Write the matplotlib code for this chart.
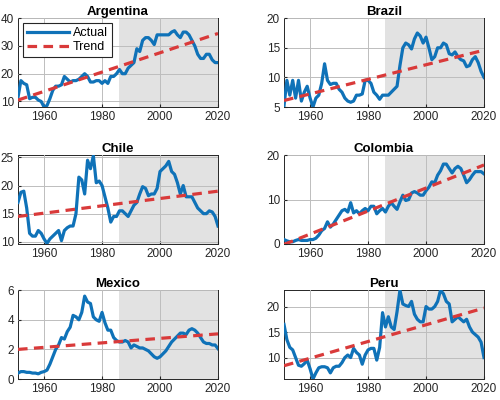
import matplotlib
matplotlib.use('Agg')
import matplotlib.pyplot as plt
import numpy as np

years = np.arange(1951, 2021)

argentina = [11.5, 17.5, 16.5, 16.0, 11.0, 11.5, 11.5, 10.5, 10.0, 8.0,
             8.5, 11.0, 14.0, 15.5, 15.5, 16.0, 19.0, 18.0, 17.0, 17.5,
             17.5, 18.0, 19.0, 20.0, 19.0, 17.0, 17.0, 17.5, 17.5, 16.5,
             17.5, 16.5, 19.0, 19.0, 20.0, 21.5, 20.0, 20.0, 22.0, 23.0,
             24.0, 29.0, 28.0, 32.0, 33.0, 33.0, 32.0, 30.5, 34.0, 34.0,
             34.0, 34.0, 34.0, 35.0, 35.5, 34.0, 33.0, 35.0, 35.0, 34.0,
             32.0, 30.0, 27.0, 25.5, 25.5, 27.0, 27.0, 25.0, 24.0, 24.0]
brazil = [5.2, 9.5, 7.0, 9.5, 6.5, 9.5, 6.0, 7.5, 8.5, 6.5,
          5.0, 6.5, 7.0, 9.0, 12.3, 9.5, 8.8, 9.0, 9.0, 8.0,
          7.5, 6.5, 6.0, 5.8, 6.0, 7.0, 7.0, 7.2, 9.5, 9.5,
          9.0, 7.5, 7.0, 6.3, 7.0, 7.0, 7.0, 7.5, 8.0, 8.5,
          12.0, 15.0, 15.8, 15.5, 14.8, 16.5, 17.5, 17.0, 15.8, 16.8,
          15.0, 13.0, 13.5, 15.0, 15.0, 15.8, 15.5, 14.0, 13.8, 14.3,
          13.5, 13.0, 12.8, 11.8, 12.0, 13.0, 13.5, 12.5, 11.0, 10.0]
chile = [17.0, 18.8, 19.0, 16.0, 11.5, 11.0, 11.0, 12.0, 11.5, 10.5,
         9.7, 10.5, 11.0, 11.5, 12.0, 10.2, 12.0, 12.5, 12.8, 12.8,
         15.0, 21.5, 21.0, 18.5, 24.5, 23.0, 25.3, 20.5, 20.8, 20.0,
         18.0, 16.0, 13.5, 14.5, 14.5, 15.5, 15.5, 15.0, 14.5, 15.5,
         16.5, 17.0, 18.5, 19.8, 19.5, 18.2, 18.5, 18.5, 19.5, 22.5,
         23.0, 23.5, 24.3, 22.5, 22.0, 20.5, 18.5, 20.0, 18.0, 18.0,
         18.0, 17.0, 16.0, 15.5, 15.0, 15.0, 15.5, 15.3, 14.5, 12.8]
colombia = [1.0, 0.7, 0.5, 0.5, 0.8, 1.0, 0.8, 0.8, 0.8, 1.0,
            1.0, 1.3, 2.0, 3.0, 3.5, 5.0, 3.8, 4.5, 5.5, 6.5,
            7.5, 7.8, 7.2, 9.3, 7.0, 7.5, 6.8, 7.5, 8.0, 7.5,
            8.5, 8.5, 6.8, 7.5, 8.0, 7.2, 8.5, 9.3, 8.5, 7.8,
            9.5, 11.0, 9.8, 10.0, 11.5, 11.8, 11.5, 11.0, 11.0, 12.0,
            12.8, 14.0, 13.8, 15.5, 16.5, 18.0, 18.0, 17.0, 16.0, 17.0,
            17.5, 17.0, 15.5, 13.8, 14.5, 15.5, 16.3, 16.3, 16.3, 15.8]
mexico = [0.4, 0.5, 0.5, 0.45, 0.45, 0.4, 0.4, 0.35, 0.45, 0.5,
          0.6, 1.0, 1.5, 2.0, 2.3, 2.8, 2.7, 3.2, 3.5, 4.3,
          4.2, 4.0, 4.5, 5.6, 5.2, 5.1, 4.2, 4.0, 3.9, 4.5,
          3.8, 3.3, 3.3, 2.8, 2.6, 2.5, 2.5, 2.6, 2.5, 2.1,
          2.3, 2.2, 2.1, 2.1, 2.0, 1.9, 1.7, 1.5, 1.4, 1.5,
          1.7, 1.9, 2.2, 2.5, 2.7, 2.9, 3.1, 3.1, 3.0, 3.3,
          3.4, 3.3, 3.1, 2.8, 2.5, 2.4, 2.4, 2.3, 2.3, 2.05]
peru = [16.5, 13.5, 12.0, 11.5, 10.0, 8.5, 8.3, 8.8, 9.5, 7.8,
        5.8, 7.0, 8.0, 8.2, 8.2, 8.0, 7.0, 8.0, 8.3, 8.3,
        9.0, 10.0, 10.5, 10.0, 11.8, 11.0, 10.5, 8.7, 10.5, 11.5,
        11.8, 11.8, 9.5, 12.0, 18.8, 16.0, 18.0, 16.0, 15.5, 19.0,
        23.2, 20.5, 20.2, 20.0, 21.0, 18.5, 17.5, 17.0, 17.0, 20.0,
        19.5, 19.5, 20.0, 21.0, 23.2, 22.5, 21.0, 20.5, 17.0, 17.5,
        18.0, 17.5, 17.0, 17.5, 16.0, 15.0, 14.5, 14.0, 13.0, 10.0]

countries = ['Argentina', 'Brazil', 'Chile', 'Colombia', 'Mexico', 'Peru']
series = [argentina, brazil, chile, colombia, mexico, peru]
# trend endpoints (1951, 2020)
trends = [(10.5, 34.5), (6.1, 14.6), (14.5, 19.0), (-0.1, 17.8), (2.0, 3.05), (8.4, 19.7)]
ylims = [(8, 40), (5, 20), (9.6, 25.4), (0, 20), (0, 6), (5.8, 23.2)]
yticks = [[10, 20, 30, 40], [5, 10, 15, 20], [10, 15, 20, 25], [0, 10, 20], [0, 2, 4, 6], [10, 15, 20]]
shade_start = 1986

plt.rcParams['font.family'] = ['Liberation Sans', 'DejaVu Sans']
fig = plt.figure(figsize=(5, 4), dpi=100)

lefts = [0.036, 0.568]
bottoms = [0.7325, 0.39, 0.0525]
w, h = 0.40, 0.222

for i, name in enumerate(countries):
    ax = fig.add_axes([lefts[i % 2], bottoms[i // 2], w, h])
    ax.axvspan(shade_start, 2020, color='#e2e2e2', zorder=0, lw=0)
    ax.plot(years, series[i], color='#0f72b8', lw=2.3, label='Actual', zorder=3)
    t0, t1 = trends[i]
    ax.plot([1951, 2020], [t0, t1], color='#d93a3a', lw=2.3, ls=(0, (3, 2)),
            label='Trend', zorder=4)
    ax.set_xlim(1951, 2020)
    ax.set_ylim(*ylims[i])
    ax.set_xticks([1960, 1980, 2000, 2020])
    ax.set_yticks(yticks[i])
    ax.grid(True, color='#bdbdbd', lw=0.7)
    ax.set_axisbelow(False)
    ax.tick_params(direction='in', length=2, labelsize=8.5, colors='#262626', pad=3)
    for s in ax.spines.values():
        s.set_color('#262626')
        s.set_linewidth(0.7)
    ax.set_title(name, fontsize=9.5, fontweight='bold', pad=2)
    if i == 0:
        leg = ax.legend(loc='upper left', fontsize=9, fancybox=False,
                        edgecolor='#262626', framealpha=1, handlelength=3.4,
                        borderpad=0.3, labelspacing=0.2, handletextpad=0.3,
                        borderaxespad=0.4)
        leg.get_frame().set_linewidth(0.8)

fig.savefig('out.png', dpi=100)
